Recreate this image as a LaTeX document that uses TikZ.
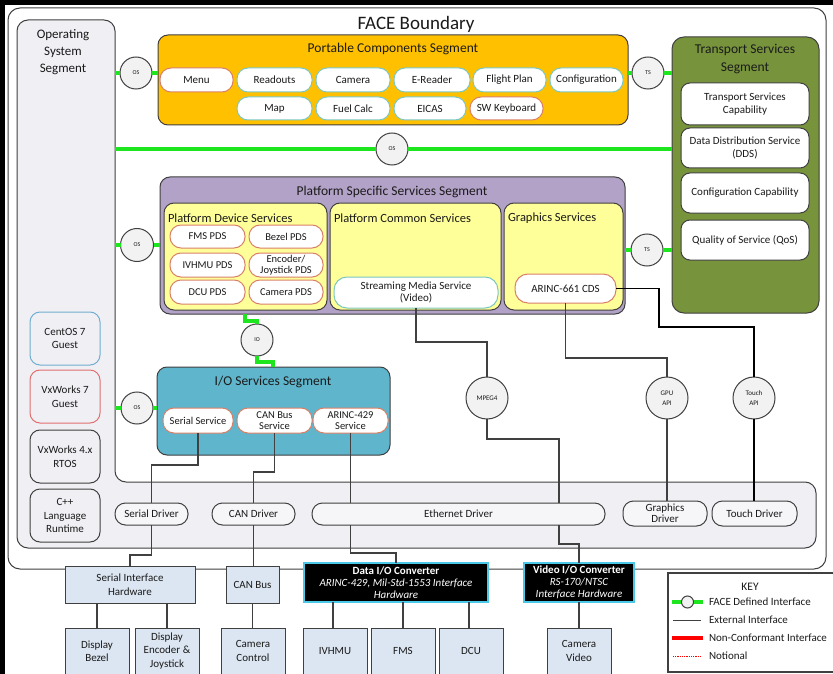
\documentclass[tikz,border=0pt]{standalone}
\usepackage{fontspec}
\setmainfont{Carlito}
\usetikzlibrary{calc}
\definecolor{dk}{HTML}{404040}
\definecolor{txt}{HTML}{1A1A1A}
\definecolor{tealb}{HTML}{7CC7C0}
\definecolor{redb}{HTML}{D98068}
\definecolor{pcsc}{HTML}{FFC000}
\definecolor{pssc}{HTML}{B3A2C7}
\definecolor{yelc}{HTML}{FFFF99}
\definecolor{tssc}{HTML}{77933C}
\definecolor{iosc}{HTML}{5FB5CC}
\definecolor{hwc}{HTML}{DCE6F2}
\definecolor{osc}{HTML}{F0EFF4}
\definecolor{gcol}{HTML}{1EE61E}
\definecolor{circc}{HTML}{F2F2F2}
\definecolor{cyanb}{HTML}{4BC8E8}
\definecolor{blueb}{HTML}{6FAFD0}
\definecolor{redos}{HTML}{E07070}
\newcommand{\mkbox}[7]{%
  \pgfmathsetmacro{\mkcx}{(#2+#4)/2}%
  \pgfmathsetmacro{\mkcy}{(#3+#5)/2}%
  \pgfmathsetmacro{\mkw}{#4-#2}%
  \pgfmathsetmacro{\mkh}{#5-#3}%
  \node[#6, minimum width=\mkw pt, minimum height=\mkh pt] (#1) at (\mkcx,\mkcy) {#7};}
\newcommand{\fsz}[2]{\fontsize{#1}{#2}\selectfont}
\tikzset{
  base/.style={outer sep=0pt, inner sep=1pt, align=center, text=txt},
  seg/.style={base, draw=dk, line width=1pt, rounded corners=10pt},
  segtitle/.style={base, font=\fsz{13.5}{17}},
  subtitle/.style={base, anchor=west, font=\fsz{12.5}{14}},
  pillT/.style={base, draw=tealb, fill=white, line width=1pt, rounded corners=11pt, font=\fsz{11}{12}},
  pillR/.style={pillT, draw=redb},
  pdsR/.style={pillR, font=\fsz{10.5}{11}},
  ioR/.style={pillR, font=\fsz{10.5}{10.5}},
  tssbox/.style={base, draw=dk, fill=white, line width=1pt, rounded corners=9pt, font=\fsz{11}{13}},
  osbox/.style={base, draw=dk, fill=osc, line width=1pt, rounded corners=10pt, font=\fsz{11}{13.5}},
  drv/.style={base, draw=dk, fill=osc!60!white, line width=1pt, rounded corners=10.5pt, font=\fsz{11}{12}},
  hw/.style={base, draw=dk, fill=hwc, line width=1pt, font=\fsz{11}{13.5}},
  conv/.style={base, draw=cyanb, fill=black, text=white, line width=1.2pt, font=\fsz{11}{12}},
  ifc/.style={base, circle, draw=dk, fill=circc, line width=1pt, inner sep=0pt, font=\fsz{6}{7}},
  api/.style={ifc, font=\fsz{7}{10}},
  gline/.style={draw=gcol, line width=3.2pt},
  ext/.style={draw=dk, line width=1.2pt},
  extb/.style={draw=black, line width=1.8pt},
  keytxt/.style={base, anchor=west, font=\fsz{11}{12}}
}
\begin{document}
\begin{tikzpicture}[x=1pt,y=-1pt]
\useasboundingbox (0,0) rectangle (833,674);
\clip (0,0) rectangle (833,674);
\fill[white] (0,0) rectangle (833,674);
% FACE boundary
\mkbox{fb}{8}{8}{826}{569}{base, draw=dk, line width=1pt, rounded corners=12pt}{}
\node[base, font=\fsz{19}{22}] (fbt) at (416,24) {FACE Boundary};
% Operating system segment (L-shape)
\path[draw=dk, fill=osc, line width=1pt, rounded corners=11pt]
  (17,548) -- (17,20) -- (115,20) -- (115,482) -- (816,482) -- (816,548) -- cycle;
\mkbox{osseg}{17}{20}{115}{548}{base}{}
\node[base, font=\fsz{13}{17}] (ost) at (63,52) {Operating\\System\\Segment};
\mkbox{centos}{30}{312}{100}{365}{osbox, draw=blueb}{CentOS 7\\Guest}
\mkbox{vx7}{30}{370}{100}{423}{osbox, draw=redos}{VxWorks 7\\Guest}
\mkbox{vx4}{30}{430}{100}{483}{osbox}{VxWorks 4.x\\RTOS}
\mkbox{cpp}{30}{489}{100}{542}{osbox}{C++\\Language\\Runtime}
% drivers
\mkbox{serdrv}{115}{503}{188}{525}{drv}{Serial Driver}
\mkbox{candrv}{212}{503}{295}{525}{drv}{CAN Driver}
\mkbox{eth}{312}{503}{605}{525}{drv}{Ethernet Driver}
\mkbox{gdrv}{623}{501}{707}{526}{drv, font=\fsz{11}{11}}{Graphics\\Driver}
\mkbox{tdrv}{712}{501}{797}{526}{drv}{Touch Driver}
% Portable components
\mkbox{pcs}{158}{35}{628}{125}{seg, fill=pcsc}{}
\node[segtitle] (pcst) at (393,49) {Portable Components Segment};
\mkbox{menu}{160}{68}{233}{92}{pillR}{Menu}
\mkbox{readouts}{237}{68}{312}{92}{pillT}{Readouts}
\mkbox{camera}{316}{68}{390}{92}{pillT}{Camera}
\mkbox{ereader}{394}{68}{470}{92}{pillT}{E-Reader}
\mkbox{fplan}{473}{68}{546}{92}{pillT}{Flight Plan}
\mkbox{config}{550}{68}{623}{92}{pillT}{Configuration}
\mkbox{map}{237}{97}{312}{120}{pillT}{Map}
\mkbox{fuel}{316}{97}{390}{120}{pillT}{Fuel Calc}
\mkbox{eicas}{394}{97}{466}{120}{pillT}{EICAS}
\mkbox{swkb}{470}{97}{543}{120}{pillR}{SW Keyboard}
% Transport services
\mkbox{tss}{672}{37}{819}{313}{seg, fill=tssc, rounded corners=12pt}{}
\node[segtitle, font=\fsz{13.5}{18}] (tsst) at (745,59) {Transport Services\\Segment};
\mkbox{tsc}{681}{83}{809}{125}{tssbox}{Transport Services\\Capability}
\mkbox{dds}{681}{128}{809}{168}{tssbox}{Data Distribution Service\\(DDS)}
\mkbox{cfgc}{681}{173}{809}{213}{tssbox}{Configuration Capability}
\mkbox{qos}{681}{220}{809}{260}{tssbox}{Quality of Service (QoS)}
% Platform specific services
\mkbox{pss}{160}{177}{625}{314}{seg, fill=pssc}{}
\node[segtitle] (psst) at (392,192) {Platform Specific Services Segment};
\mkbox{pds}{164}{203}{327}{310}{seg, fill=yelc}{}
\mkbox{pcsv}{330}{203}{501}{310}{seg, fill=yelc}{}
\mkbox{gs}{504}{203}{623}{310}{seg, fill=yelc}{}
\node[subtitle] (pdst) at (167,218) {Platform Device Services};
\node[subtitle] (pcsvt) at (333,218) {Platform Common Services};
\node[subtitle] (gst) at (507,218) {Graphics Services};
\mkbox{fmspds}{170}{225}{245}{248}{pdsR}{FMS PDS}
\mkbox{bezpds}{249}{225}{323}{248}{pdsR}{Bezel PDS}
\mkbox{ivhpds}{170}{253}{245}{277}{pdsR}{IVHMU PDS}
\mkbox{encpds}{249}{253}{323}{277}{pdsR, font=\fsz{10.5}{10.5}}{Encoder/\\Joystick PDS}
\mkbox{dcupds}{170}{280}{245}{304}{pdsR}{DCU PDS}
\mkbox{campds}{249}{280}{323}{304}{pdsR}{Camera PDS}
\mkbox{stream}{334}{277}{498}{308}{pillT, rounded corners=13pt, font=\fsz{11}{12.5}}{Streaming Media Service\\(Video)}
\mkbox{a661}{515}{274}{616}{303}{pillR, rounded corners=13pt}{ARINC-661 CDS}
% I/O services
\mkbox{ioss}{157}{367}{390}{455}{seg, fill=iosc}{}
\node[segtitle] (iosst) at (273,382) {I/O Services Segment};
\mkbox{sersvc}{163}{408}{233}{433}{ioR}{Serial Service}
\mkbox{cansvc}{237}{408}{312}{433}{ioR}{CAN Bus\\Service}
\mkbox{a429}{313}{408}{388}{433}{ioR}{ARINC-429\\Service}
% interface circles
\node[ifc, minimum size=32pt] (os1) at (136,73) {OS};
\node[ifc, minimum size=32pt] (ts1) at (648,73) {TS};
\node[ifc, minimum size=32pt] (os2) at (392,149) {OS};
\node[ifc, minimum size=33pt] (os3) at (137,245) {OS};
\node[ifc, minimum size=32pt] (ts2) at (647,250) {TS};
\node[ifc, minimum size=32pt] (io) at (257,340) {IO};
\node[ifc, minimum size=32pt] (os4) at (137,408) {OS};
\node[api, minimum size=42pt] (mpeg) at (487,398) {MPEG4};
\node[api, minimum size=42pt] (gpu) at (667,398) {GPU\\API};
\node[api, minimum size=42pt] (touch) at (754,398) {Touch\\API};
% hardware
\mkbox{sih}{65}{566}{195}{603}{hw}{Serial Interface\\Hardware}
\mkbox{canbus}{226}{566}{279}{603}{hw}{CAN Bus}
\mkbox{dataio}{304}{563}{488}{602}{conv}{{\bfseries Data I/O Converter}\\\itshape ARINC-429, Mil-Std-1553 Interface\\\itshape Hardware}
\mkbox{video}{524}{563}{634}{602}{conv}{{\bfseries Video I/O Converter}\\\itshape RS-170/NTSC\\\itshape Interface Hardware}
\mkbox{dbez}{65}{628}{129}{674}{hw}{Display\\Bezel}
\mkbox{denc}{135}{628}{199}{674}{hw}{Display\\Encoder \&\\Joystick}
\mkbox{camctl}{221}{628}{285}{674}{hw}{Camera\\Control}
\mkbox{ivhmu}{303}{628}{367}{674}{hw}{IVHMU}
\mkbox{fms}{371}{628}{435}{674}{hw}{FMS}
\mkbox{dcu}{439}{628}{503}{674}{hw}{DCU}
\mkbox{camvid}{547}{628}{611}{674}{hw}{Camera\\Video}
% waypoints
\coordinate (wSer1) at (0,465);
\coordinate (wSer2) at (0,555);
\coordinate (wCan) at (0,472);
\coordinate (wA429) at (0,553);
\coordinate (wStr) at (0,342);
\coordinate (wMp) at (559,439);
\coordinate (wEth) at (0,544);
\coordinate (wGpu) at (0,358);
\coordinate (wTch) at (659,327);
% green FACE interfaces
\draw[gline] (osseg.east |- os1) -- (os1.west);
\draw[gline] (os1.east) -- (pcs.west |- os1);
\draw[gline] (pcs.east |- ts1) -- (ts1.west);
\draw[gline] (ts1.east) -- (tss.west |- ts1);
\draw[gline] (osseg.east |- os2) -- (os2.west);
\draw[gline] (os2.east) -- (tss.west |- os2);
\draw[gline] (osseg.east |- os3) -- (os3.west);
\draw[gline] (os3.east) -- (pss.west |- os3);
\draw[gline] (pss.east |- ts2) -- (ts2.west);
\draw[gline] (ts2.east) -- (tss.west |- ts2);
\draw[gline] (osseg.east |- os4) -- (os4.west);
\draw[gline] (os4.east) -- (ioss.west |- os4);
\draw[gline] (io.north) |- ([xshift=-12pt]io.north |- 0,321) -- ([xshift=-12pt]io.north |- pss.south);
\draw[gline] (io.south) |- ([xshift=16pt]io.south |- 0,362) -- ([xshift=16pt]io.south |- ioss.north);
% external interfaces
\draw[ext] (sersvc.south) -- (sersvc.south |- wSer1) -- (serdrv.north |- wSer1) -- (serdrv.north);
\draw[ext] (serdrv.south) -- (serdrv.south |- wSer2) -- (sih.north |- wSer2) -- (sih.north);
\draw[ext] (cansvc.south) -- (cansvc.south |- wCan) -- (candrv.north |- wCan) -- (candrv.north);
\draw[ext] (candrv.south) -- (candrv.south |- canbus.north);
\draw[ext] (a429.south) -- (a429.south |- eth.north);
\draw[ext] (a429.south |- eth.south) -- (a429.south |- wA429) -- (dataio.north |- wA429) -- (dataio.north);
\draw[ext] (stream.south) -- (stream.south |- wStr) -- (mpeg.north |- wStr) -- (mpeg.north);
\draw[ext] (mpeg.south) -- (mpeg.south |- wMp) -- (wMp) -- (wMp |- eth.north);
\draw[ext] (wMp |- eth.south) -- (wMp |- wEth) -- (video.north |- wEth) -- (video.north);
\draw[ext] (a661.south) -- (a661.south |- wGpu) -- (gpu.north |- wGpu) -- (gpu.north);
\draw[ext] (gpu.south) -- (gpu.south |- gdrv.north);
\draw[extb] (a661.east) -- (wTch |- a661.east) -- (wTch) -- (touch.north |- wTch) -- (touch.north);
\draw[extb] (touch.south) -- (touch.south |- tdrv.north);
\draw[ext] (sih.south -| dbez.north) -- (dbez.north);
\draw[ext] (sih.south -| denc.north) -- (denc.north);
\draw[ext] (canbus.south) -- (canbus.south |- camctl.north);
\draw[ext] (dataio.south -| 333,0) -- (ivhmu.north -| 333,0);
\draw[ext] (dataio.south -| fms.north) -- (fms.north);
\draw[ext] (dataio.south -| 469,0) -- (dcu.north -| 469,0);
\draw[ext] (video.south) -- (video.south |- camvid.north);
% key
\mkbox{key}{668}{573}{845}{672}{base, draw=dk, fill=white, line width=1.2pt}{}
\node[base, font=\fsz{11.5}{12}] (keyt) at (750,587) {KEY};
\coordinate (k1a) at (672,602); \coordinate (k1b) at (703,602);
\coordinate (k2a) at (673,620); \coordinate (k2b) at (701,620);
\coordinate (k3a) at (672,638); \coordinate (k3b) at (703,638);
\coordinate (k4a) at (673,656); \coordinate (k4b) at (701,656);
\draw[gline] (k1a) -- (k1b);
\node[ifc, minimum size=12pt] (kc) at (687.5,602) {};
\draw[draw=dk, line width=1pt] (k2a) -- (k2b);
\draw[draw=red, line width=3.5pt] (k3a) -- (k3b);
\draw[draw=red, line width=0.8pt, densely dotted] (k4a) -- (k4b);
\node[keytxt] (kt1) at (708,602) {FACE Defined Interface};
\node[keytxt] (kt2) at (708,620) {External Interface};
\node[keytxt] (kt3) at (708,638) {Non-Conformant Interface};
\node[keytxt] (kt4) at (708,656) {Notional};
% frame bars
\fill[black] (0,0) rectangle (833,5);
\fill[black] (0,0) rectangle (5,674);
\end{tikzpicture}
\end{document}
